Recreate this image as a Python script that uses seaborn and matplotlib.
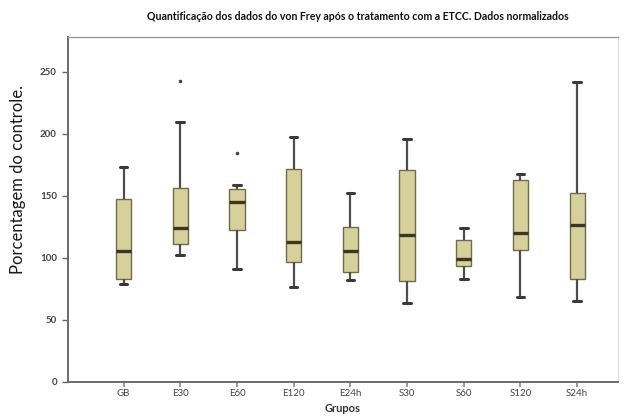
import matplotlib
matplotlib.use("Agg")
import matplotlib.pyplot as plt
import seaborn as sns
import pandas as pd

groups = ["GB", "E30", "E60", "E120", "E24h", "S30", "S60", "S120", "S24h"]
whisker_low = [78.7, 102.4, 91.3, 76.8, 82.4, 63.8, 83.2, 68.2, 65.4]
q1 = [83.2, 111.5, 122.6, 96.7, 88.4, 81.1, 93.5, 106.4, 83.2]
median = [105.9, 124.0, 145.2, 112.6, 105.9, 118.3, 99.2, 120.4, 126.4]
q3 = [147.4, 156.0, 155.7, 171.9, 124.5, 170.5, 114.0, 163.0, 152.7]
whisker_high = [173.2, 209.6, 159.0, 197.5, 152.5, 195.8, 123.9, 167.6, 241.6]
outlier_groups = ["E30", "E60"]
outlier_values = [242.7, 184.5]
y_ticks = [0, 50, 100, 150, 200, 250]

title = "Quantificação dos dados do von Frey após o tratamento com a ETCC. Dados normalizados"

rows = []
for g, a, b, c, d, e in zip(groups, whisker_low, q1, median, q3, whisker_high):
    for v in (a, b, c, d, e):
        rows.append({"Grupo": g, "valor": v})
df = pd.DataFrame(rows)
df_out = pd.DataFrame({"Grupo": outlier_groups, "valor": outlier_values})

sns.set_style("white")
plt.rcParams["font.family"] = ["Lato", "DejaVu Sans"]

fig = plt.figure(figsize=(6.28, 4.18), dpi=100)
ax = fig.add_axes([68 / 628, 1 - 381.7 / 418, (618 - 68) / 628, (381.7 - 37.3) / 418])

box_fill = "#d6d09b"
sns.boxplot(
    data=df, x="Grupo", y="valor", order=groups, ax=ax,
    whis=(0, 100), width=0.27, color=box_fill, linecolor="#6e6c4c", linewidth=1.0,
    showfliers=False,
    medianprops={"color": "#3a3820", "linewidth": 2.4},
    whiskerprops={"color": "#4d4d4d", "linewidth": 1.6},
    capprops={"color": "#3a3a3a", "linewidth": 2.2},
    boxprops={"facecolor": box_fill, "edgecolor": "#6e6c4c", "linewidth": 1.0},
)
sns.stripplot(data=df_out, x="Grupo", y="valor", order=groups, ax=ax,
              jitter=False, color="#444444", size=2.6, marker="o", linewidth=0)

ax.set_xlim(-0.98, 8.72)
ax.set_ylim(0, 278)
ax.set_yticks(y_ticks)
ax.set_yticklabels([str(t) for t in y_ticks], fontsize=7, fontweight="bold", color="#444444")
ax.set_xticks(range(len(groups)))
ax.set_xticklabels(groups, fontsize=7, color="#444444")
ax.tick_params(axis="y", direction="out", length=4, width=1, color="#666666", pad=4, left=True)
ax.tick_params(axis="x", direction="out", length=3.5, width=1.2, color="#888888", pad=2, bottom=True)

for s in ("left", "bottom"):
    ax.spines[s].set_color("#6a6a6a")
    ax.spines[s].set_linewidth(1.4)
ax.spines["top"].set_color("#9a9a9a")
ax.spines["top"].set_linewidth(1.0)
ax.spines["right"].set_color("#dddddd")
ax.spines["right"].set_linewidth(0.8)

ax.set_ylabel("Porcentagem do controle.", fontsize=12, color="#1a1a1a")
ax.yaxis.set_label_coords(-0.076, 0.586)
ax.set_xlabel("Grupos", fontsize=8, fontweight="bold", color="#333333", labelpad=3)

fig.text(358 / 628, 1 - 17 / 418, title, ha="center", va="center",
         fontsize=7.6, fontweight="bold", color="#111111")

fig.savefig("out.png", dpi=100)
